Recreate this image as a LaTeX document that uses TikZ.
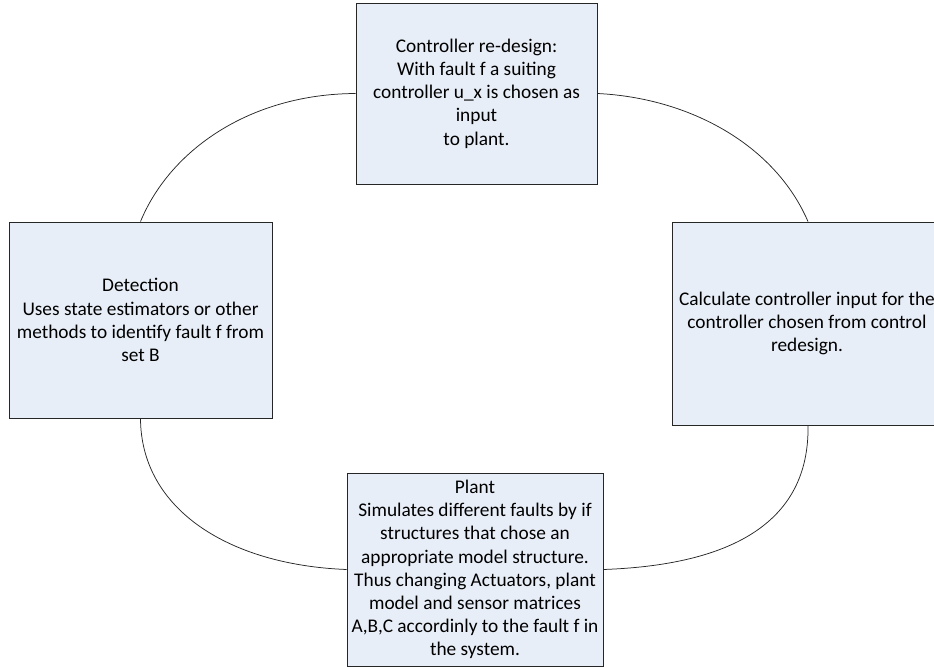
\documentclass[tikz,border=0pt]{standalone}
\usepackage{fontspec}
\setmainfont{Carlito}
\definecolor{boxfill}{RGB}{232,238,247}
\tikzset{
  stage/.style={draw=black!85, fill=boxfill, line width=0.9pt, align=center, inner sep=2pt},
  loopline/.style={draw=black!85, line width=0.75pt}
}
\begin{document}
\begin{tikzpicture}[x=1bp,y=-1bp,font=\fontsize{19.4}{23.3}\selectfont]
\useasboundingbox (0,0) rectangle (934,668);
% stages of the loop
\node[stage, minimum width=241bp, minimum height=181bp] (redesign) at (476.5,93.5)
  {Controller re-design:\\With fault f a suiting\\controller u\_x is chosen as\\input\\to plant.};
\node[stage, minimum width=263bp, minimum height=196bp] (detect) at (140.5,320)
  {Detection\\Uses state estimators or other\\methods to identify fault f from\\set B};
\node[stage, minimum width=284bp, minimum height=203bp] (calc) at (814,323.5) {};
\node[align=center] (calctext) at (807,323.5)
  {Calculate controller input for the\\controller chosen from control\\redesign.};
\node[stage, minimum width=256bp, minimum height=193bp] (plant) at (475,569.5)
  {Plant\\Simulates different faults by if\\structures that chose an\\appropriate model structure.\\Thus changing Actuators, plant\\model and sensor matrices\\A,B,C accordinly to the fault f in\\the system.};
% connecting curves
\path[loopline]
  (redesign.west) .. controls (250,94) and (170,150) .. (detect.north)
  (redesign.east) .. controls (690,98) and (775,145) .. ([xshift=-6bp]calc.north)
  (detect.south) .. controls (141,510) and (230,565) .. (plant.west)
  ([xshift=-6bp]calc.south) .. controls (810,540) and (700,566) .. (plant.east);
\end{tikzpicture}
\end{document}
